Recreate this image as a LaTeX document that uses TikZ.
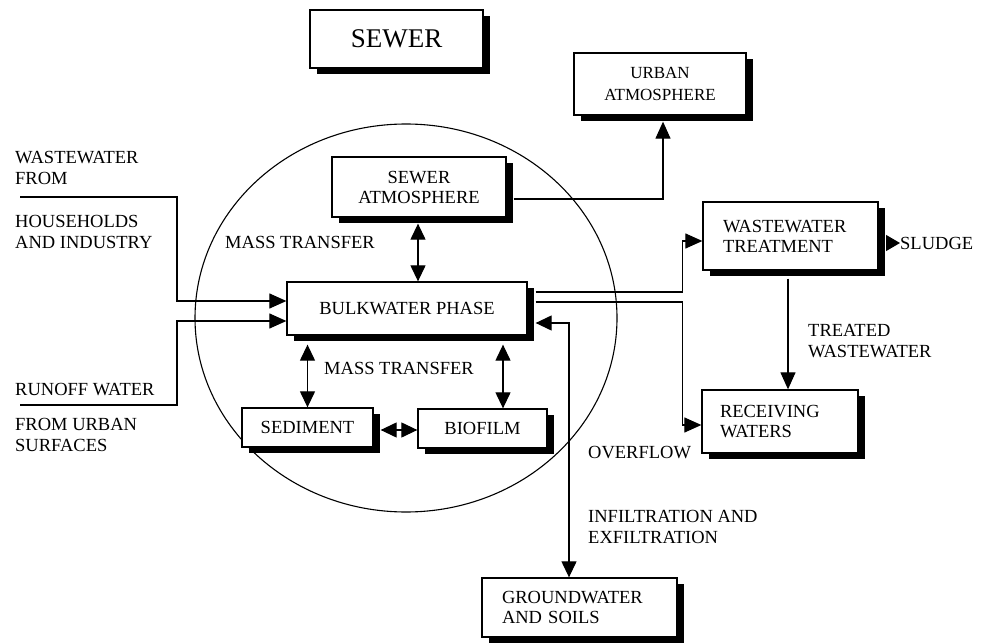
\documentclass[tikz,border=0pt]{standalone}
\usepackage{fontspec}
\setmainfont{Liberation Serif}
\usetikzlibrary{arrows.meta,calc,shadows}
\begin{document}
\begin{tikzpicture}[x=1pt,y=-1pt,
 box/.style={draw=black,line width=1.3pt,fill=white,inner sep=0pt,
   font=\fontsize{18.5}{20}\selectfont,align=center,
   drop shadow={shadow xshift=7pt,shadow yshift=-6pt,opacity=1,fill=black}},
 lbl/.style={inner sep=0pt,align=left,anchor=west,font=\fontsize{18.5}{21}\selectfont},
 conn/.style={line width=1.2pt},
 tri/.style={conn,-{Triangle[length=17pt,width=15pt]}},
 dtri/.style={conn,{Triangle[length=16pt,width=15pt]}-{Triangle[length=16pt,width=15pt]}},
]
\useasboundingbox (0,0) rectangle (982,644);

% sewer boundary
\draw[line width=1.1pt] (406,318) ellipse [x radius=211, y radius=194];

% boxes
\node[box,minimum width=173,minimum height=58,font=\fontsize{27}{30}\selectfont] (sewer) at (396.5,39) {SEWER};
\node[box,minimum width=172,minimum height=62,font=\fontsize{17}{22}\selectfont] (urban) at (660,84) {URBAN\\ATMOSPHERE};
\node[box,minimum width=174,minimum height=60] (satm) at (419,187) {SEWER\\ATMOSPHERE};
\node[box,minimum width=240,minimum height=53] (bulk) at (407,308.5) {BULKWATER PHASE};
\node[box,minimum width=131,minimum height=39] (sed) at (307.5,427.5) {SEDIMENT};
\node[box,minimum width=129,minimum height=39] (bio) at (482.5,428.5) {BIOFILM};
\node[box,minimum width=175,minimum height=68,text width=135,align=left] (wt) at (790.5,236) {WASTEWATER\\TREATMENT};
\node[box,minimum width=156,minimum height=63,text width=120,align=left] (rw) at (780,421.5) {RECEIVING\\WATERS};
\node[box,minimum width=195,minimum height=59,text width=155,align=left] (gw) at (579.5,607.5) {GROUNDWATER\\AND SOILS};

% labels
\node[lbl] (wwl) at (15,167.5) {WASTEWATER\\FROM};
\node[lbl] (hhl) at (15,231.5) {HOUSEHOLDS\\AND INDUSTRY};
\node[lbl] (rol) at (15,390) {RUNOFF WATER};
\node[lbl] (ful) at (15,435) {FROM URBAN\\SURFACES};
\node[lbl] (mt1) at (225,242) {MASS TRANSFER};
\node[lbl] (mt2) at (324,368) {MASS TRANSFER};
\node[lbl] (trl) at (808,341.5) {TREATED\\WASTEWATER};
\node[lbl] (ovl) at (588,453) {OVERFLOW};
\node[lbl] (infl) at (588,527) {INFILTRATION AND\\EXFILTRATION};
\node[lbl] (sludge) at (900,243) {SLUDGE};

% free ends
\coordinate (ww) at (20,197);
\coordinate (ro) at (20,405);

% connectors
\draw[tri] (ww) -- ++(157,0) |- ($(bulk.west)+(0,-7.5)$);
\draw[tri] (ro) -- ++(157,0) |- ($(bulk.west)+(0,12.5)$);
\draw[tri] ($(satm.east)+(7,12)$) -| ($(urban.south)+(3,6)$);
\draw[dtri] ($(satm.south)+(-1,6)$) -- ($(satm.south|-bulk.north)+(-1,0)$);
\draw[dtri] ($(sed.north|-bulk.south)+(0,9)$) -- (sed.north);
\draw[dtri] ($(bio.north|-bulk.south)+(20.5,9)$) -- ($(bio.north)+(20.5,0)$);
\draw[dtri] ($(sed.east)+(7,2.5)$) -- ($(bio.west|-sed.east)+(0,2.5)$);
\draw[tri] ($(bulk.east)+(8,-16.5)$) -- ++(147,0) |- ($(wt.west)+(0,5)$);
\draw[tri] ($(bulk.east)+(8,-6.5)$) -- ++(147,0) |- ($(rw.west)+(0,3.5)$);
\draw[dtri] ($(bulk.east)+(8,14.5)$) -| ($(gw.north)+(-10.5,0)$);
\draw[tri] ($(wt.south)+(-2.5,8)$) -- ($(wt.south|-rw.north)+(-2.5,0)$);
\draw[conn,-{Triangle[length=14pt,width=16pt]}] ($(wt.east)+(8,7)$) -- (sludge.west);
\end{tikzpicture}
\end{document}
